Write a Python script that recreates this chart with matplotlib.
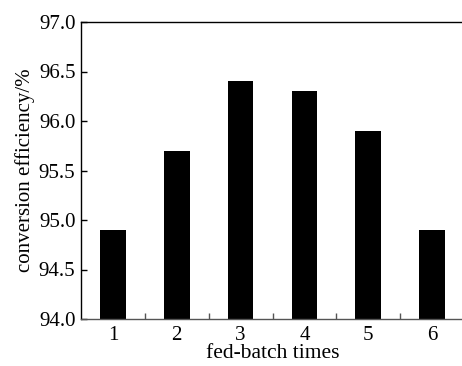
import numpy as np
import matplotlib
matplotlib.use("Agg")
from matplotlib import pyplot as plt

batch = [1, 2, 3, 4, 5, 6]
efficiency = [94.9, 95.7, 96.4, 96.3, 95.9, 94.9]
yticks = [94.0, 94.5, 95.0, 95.5, 96.0, 96.5, 97.0]

plt.rcParams['font.family'] = ['Liberation Serif', 'DejaVu Serif']
plt.rcParams['font.size'] = 15

fig = plt.figure(figsize=(4.62, 3.66), dpi=100)
ax = fig.add_axes([81/462, 47/366, 383/462, 297/366])

ax.bar(batch, efficiency, width=0.4, color="black", bottom=0)
ax.set_xlim(0.5, 6.5)
ax.set_ylim(94.0, 97.0)

ax.set_yticks(yticks)
ax.set_yticklabels(["%.1f" % v for v in yticks])
ax.set_xticks(batch)
ax.set_xticks(np.arange(1.5, 6.0, 1.0), minor=True)
ax.tick_params(axis="x", which="major", length=0, pad=5)
ax.tick_params(axis="x", which="minor", direction="in", length=4, width=1, color="#555555")
ax.tick_params(axis="y", direction="in", length=4, width=1, pad=4)

ax.spines["right"].set_visible(False)
ax.spines["bottom"].set_color("#555555")
for s in ["left", "top", "bottom"]:
    ax.spines[s].set_linewidth(1)

ax.set_xlabel("fed-batch times", fontsize=15.5, labelpad=-1)
ax.set_ylabel("conversion efficiency/%", labelpad=3)

fig.savefig("out.png", dpi=100)
